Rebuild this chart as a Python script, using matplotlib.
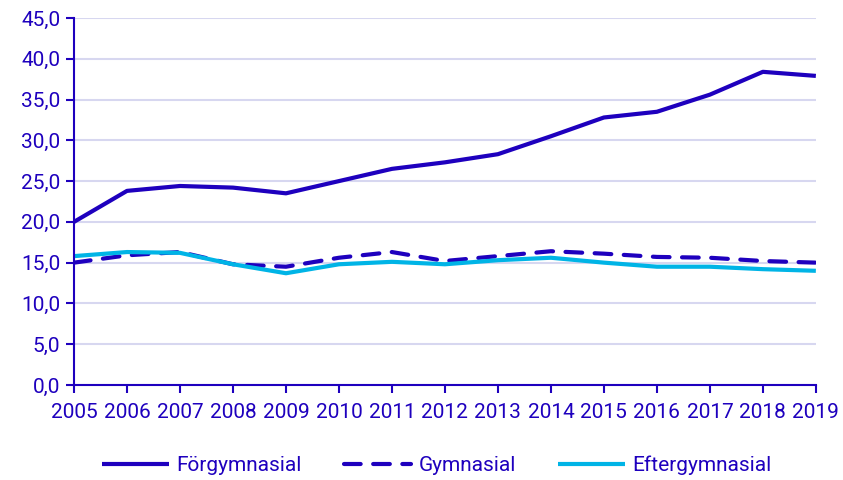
"""
Line chart: three education levels, 2005-2019
"""

import matplotlib.pyplot as plt
from matplotlib.ticker import FuncFormatter

DARK = "#1E00BE"
LIGHT = "#00B4E6"
GRID = "#D7D7F0"

years = list(range(2005, 2020))
forgymnasial = [20.0, 23.8, 24.4, 24.2, 23.5, 25.0, 26.5, 27.3, 28.3, 30.5, 32.8, 33.5, 35.6, 38.4, 37.9]
gymnasial = [15.0, 15.9, 16.3, 14.8, 14.5, 15.6, 16.3, 15.2, 15.8, 16.4, 16.1, 15.7, 15.6, 15.2, 15.0]
eftergymnasial = [15.8, 16.3, 16.2, 14.8, 13.7, 14.8, 15.1, 14.8, 15.3, 15.6, 15.0, 14.5, 14.5, 14.2, 14.0]

plt.rcParams["font.family"] = ["Roboto", "DejaVu Sans"]
FONT_SIZE = 15

fig = plt.figure(figsize=(8.43, 4.8), dpi=100)
ax = fig.add_axes([0.0878, 0.198, 0.880, 0.7645])

ax.plot(years, forgymnasial, color=DARK, linewidth=3, label="Förgymnasial", solid_capstyle="butt")
ax.plot(years, gymnasial, color=DARK, linewidth=3, linestyle=(0, (4, 3)), label="Gymnasial",
        dash_capstyle="round")
ax.plot(years, eftergymnasial, color=LIGHT, linewidth=3, label="Eftergymnasial", solid_capstyle="butt")

ax.set_xlim(2005, 2019)
ax.set_ylim(0, 45)
ax.set_yticks([i * 5 for i in range(10)])
ax.set_xticks(years)
ax.yaxis.set_major_formatter(FuncFormatter(lambda v, p: f"{v:.1f}".replace(".", ",")))

ax.grid(True, axis="y", color=GRID, linewidth=1.5)
ax.set_axisbelow(True)
for side in ["top", "right"]:
    ax.spines[side].set_visible(False)
for side in ["left", "bottom"]:
    ax.spines[side].set_color(DARK)
    ax.spines[side].set_linewidth(1.5)

ax.tick_params(colors=DARK, labelcolor=DARK, labelsize=FONT_SIZE, width=1.5, length=6)
ax.tick_params(axis="x", pad=7)
ax.tick_params(axis="y", pad=4)

leg = fig.legend(
    loc="center",
    bbox_to_anchor=(0.518, 0.03),
    ncol=3,
    frameon=False,
    fontsize=FONT_SIZE,
    handlelength=3.25,
    handletextpad=0.35,
    columnspacing=2.0,
)
for txt in leg.get_texts():
    txt.set_color(DARK)

fig.savefig("out.png", dpi=100)
